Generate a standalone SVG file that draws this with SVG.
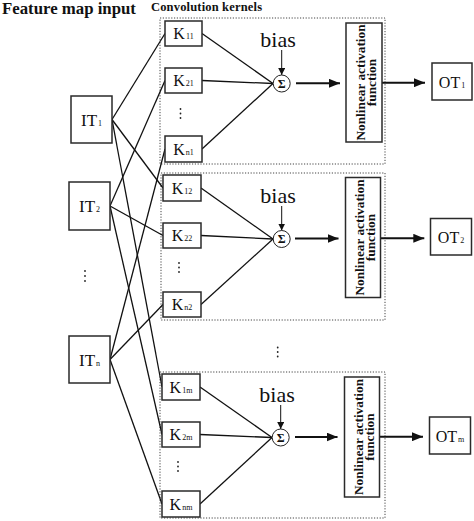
<svg xmlns="http://www.w3.org/2000/svg" width="474" height="521" viewBox="0 0 474 521">
<defs>
<style>
.box{fill:#fff;stroke:#2a2a2a;stroke-width:1.5}
.grp{fill:none;stroke:#444;stroke-width:1;stroke-dasharray:1.2 1.6}
.ln{stroke:#111;stroke-width:1.3;fill:none}
.ar{stroke:#111;stroke-width:1.9;fill:none}
.arb{stroke:#111;stroke-width:1;fill:none}
.t{font-family:"Liberation Serif","Times New Roman",serif;fill:#111}
.k{font-size:16px;text-anchor:middle}
.it{font-size:17px;text-anchor:middle}
.sub{font-size:8px;fill:#111}
.nl{font-size:13.3px;font-weight:bold;text-anchor:middle}
.bias{font-size:22px;text-anchor:middle}
.sig{fill:#fff;stroke:#222;stroke-width:1}
.dots{fill:#222}
</style>
<marker id="ah" markerUnits="userSpaceOnUse" markerWidth="11" markerHeight="9" refX="11" refY="4.5" orient="auto">
<path d="M0,0 L11,4.5 L0,9 z" fill="#111"/>
</marker>
<marker id="ahs" markerUnits="userSpaceOnUse" markerWidth="7" markerHeight="7" refX="7" refY="3.5" orient="auto">
<path d="M0,0 L7,3.5 L0,7 z" fill="#111"/>
</marker>
</defs>
<rect width="474" height="521" fill="#fff"/>

<text class="t" x="2" y="14" font-size="16.8" font-weight="bold">Feature map input</text>
<text class="t" x="151" y="11" font-size="12.5" font-weight="bold" textLength="111">Convolution kernels</text>

<g id="groups">
<rect class="grp" x="160" y="18" width="225" height="146"/>
<rect class="grp" x="161" y="173" width="224" height="147"/>
<rect class="grp" x="160" y="372" width="225" height="146"/>
</g>

<g id="connectors">
<line class="ln" x1="112" y1="119.5" x2="165" y2="33.5"/>
<line class="ln" x1="112" y1="119.5" x2="163" y2="188"/>
<line class="ln" x1="112" y1="119.5" x2="162" y2="387"/>
<line class="ln" x1="110" y1="206" x2="165" y2="80.5"/>
<line class="ln" x1="110" y1="206" x2="163" y2="235.5"/>
<line class="ln" x1="110" y1="206" x2="162" y2="434.5"/>
<line class="ln" x1="110" y1="359.5" x2="165" y2="149"/>
<line class="ln" x1="110" y1="359.5" x2="163" y2="304.5"/>
<line class="ln" x1="110" y1="359.5" x2="162" y2="504"/>

<line class="ln" x1="202" y1="33.5" x2="273" y2="83.5"/>
<line class="ln" x1="202" y1="80.5" x2="273" y2="83.5"/>
<line class="ln" x1="202" y1="149" x2="273" y2="83.5"/>
<line class="ln" x1="201" y1="188" x2="273" y2="239"/>
<line class="ln" x1="201" y1="235.5" x2="273" y2="239"/>
<line class="ln" x1="201" y1="304.5" x2="273" y2="239"/>
<line class="ln" x1="200" y1="387" x2="272" y2="437.5"/>
<line class="ln" x1="200" y1="434.5" x2="272" y2="437.5"/>
<line class="ln" x1="200" y1="504" x2="272" y2="437.5"/>

<line class="arb" x1="281.7" y1="50" x2="281.7" y2="75" marker-end="url(#ahs)"/>
<line class="arb" x1="281.7" y1="206" x2="281.7" y2="230.5" marker-end="url(#ahs)"/>
<line class="arb" x1="280.7" y1="405" x2="280.7" y2="429" marker-end="url(#ahs)"/>

<line class="ar" x1="296" y1="83.3" x2="340" y2="83.3" marker-end="url(#ah)"/>
<line class="ar" x1="295" y1="238.5" x2="338.5" y2="238.5" marker-end="url(#ah)"/>
<line class="ar" x1="295" y1="437" x2="337.5" y2="437" marker-end="url(#ah)"/>

<line class="ar" x1="382" y1="82.7" x2="425" y2="82.7" marker-end="url(#ah)"/>
<line class="ar" x1="380" y1="238.3" x2="424.3" y2="238.3" marker-end="url(#ah)"/>
<line class="ar" x1="379" y1="436.7" x2="423" y2="436.7" marker-end="url(#ah)"/>
</g>

<g id="IT1"><rect class="box" x="71" y="96" width="41" height="47"/><text class="t it" x="91.5" y="125.5">IT<tspan class="sub" dx="1">1</tspan></text></g>
<g id="IT2"><rect class="box" x="69" y="182" width="41" height="48"/><text class="t it" x="89.5" y="212">IT<tspan class="sub" dx="1">2</tspan></text></g>
<g id="ITdots"><circle class="dots" cx="85" cy="271" r="0.9"/><circle class="dots" cx="85" cy="276" r="0.9"/><circle class="dots" cx="85" cy="281" r="0.9"/></g>
<g id="ITn"><rect class="box" x="69" y="336" width="41" height="47"/><text class="t it" x="89.5" y="365.5">IT<tspan class="sub" dx="1">n</tspan></text></g>

<g id="K11"><rect class="box" x="165" y="21" width="37" height="25"/><text class="t k" x="183.5" y="39">K<tspan class="sub" dx="1">11</tspan></text></g>
<g id="K21"><rect class="box" x="165" y="68" width="37" height="25"/><text class="t k" x="183.5" y="86">K<tspan class="sub" dx="1">21</tspan></text></g>
<g id="Kdots1"><circle class="dots" cx="180.5" cy="109" r="0.9"/><circle class="dots" cx="180.5" cy="113.5" r="0.9"/><circle class="dots" cx="180.5" cy="118" r="0.9"/></g>
<g id="Kn1"><rect class="box" x="165" y="136" width="37" height="26"/><text class="t k" x="183.5" y="154.5">K<tspan class="sub" dx="1">n1</tspan></text></g>

<g id="K12"><rect class="box" x="163" y="175" width="38" height="26"/><text class="t k" x="182" y="193.5">K<tspan class="sub" dx="1">12</tspan></text></g>
<g id="K22"><rect class="box" x="163" y="223" width="38" height="25"/><text class="t k" x="182" y="241">K<tspan class="sub" dx="1">22</tspan></text></g>
<g id="Kdots2"><circle class="dots" cx="179" cy="263" r="0.9"/><circle class="dots" cx="179" cy="267.5" r="0.9"/><circle class="dots" cx="179" cy="272" r="0.9"/></g>
<g id="Kn2"><rect class="box" x="163" y="292" width="38" height="25"/><text class="t k" x="182" y="310">K<tspan class="sub" dx="1">n2</tspan></text></g>

<g id="K1m"><rect class="box" x="162" y="374" width="38" height="26"/><text class="t k" x="181" y="392.5">K<tspan class="sub" dx="1">1m</tspan></text></g>
<g id="K2m"><rect class="box" x="162" y="422" width="38" height="25"/><text class="t k" x="181" y="440">K<tspan class="sub" dx="1">2m</tspan></text></g>
<g id="Kdots3"><circle class="dots" cx="178" cy="462" r="0.9"/><circle class="dots" cx="178" cy="466.5" r="0.9"/><circle class="dots" cx="178" cy="471" r="0.9"/></g>
<g id="Knm"><rect class="box" x="162" y="491" width="38" height="26"/><text class="t k" x="181" y="509.5">K<tspan class="sub" dx="1">nm</tspan></text></g>

<g id="bias1"><text class="t bias" x="278" y="47">bias</text></g>
<g id="bias2"><text class="t bias" x="278" y="203">bias</text></g>
<g id="bias3"><text class="t bias" x="277" y="401.5">bias</text></g>

<g id="sum1"><circle class="sig" cx="281.7" cy="83.5" r="8.5"/><text class="t" x="281.7" y="87.8" font-size="12" font-weight="bold" text-anchor="middle">Σ</text></g>
<g id="sum2"><circle class="sig" cx="281.7" cy="239" r="8.5"/><text class="t" x="281.7" y="243.3" font-size="12" font-weight="bold" text-anchor="middle">Σ</text></g>
<g id="sum3"><circle class="sig" cx="280.7" cy="437.5" r="8.5"/><text class="t" x="280.7" y="441.8" font-size="12" font-weight="bold" text-anchor="middle">Σ</text></g>

<g id="act1"><rect class="box" x="346" y="23" width="36" height="119"/>
<text class="t nl" transform="translate(365,82.5) rotate(-90)">Nonlinear activation</text>
<text class="t nl" transform="translate(376,82.5) rotate(-90)">function</text></g>
<g id="act2"><rect class="box" x="345.5" y="177.5" width="35" height="120"/>
<text class="t nl" transform="translate(364,237.5) rotate(-90)">Nonlinear activation</text>
<text class="t nl" transform="translate(375,237.5) rotate(-90)">function</text></g>
<g id="act3"><rect class="box" x="344.5" y="377" width="35" height="120"/>
<text class="t nl" transform="translate(363,437) rotate(-90)">Nonlinear activation</text>
<text class="t nl" transform="translate(374,437) rotate(-90)">function</text></g>

<g id="midDots"><circle class="dots" cx="277.7" cy="347.5" r="0.9"/><circle class="dots" cx="277.7" cy="352" r="0.9"/><circle class="dots" cx="277.7" cy="356.5" r="0.9"/></g>

<g id="OT1"><rect class="box" x="432" y="63" width="40" height="37"/><text class="t k" x="452" y="87.5">OT<tspan class="sub" dx="1">1</tspan></text></g>
<g id="OT2"><rect class="box" x="430.5" y="218.5" width="41" height="36.5"/><text class="t k" x="451" y="243">OT<tspan class="sub" dx="1">2</tspan></text></g>
<g id="OTm"><rect class="box" x="429.5" y="417" width="41" height="37"/><text class="t k" x="450" y="441.5">OT<tspan class="sub" dx="1">m</tspan></text></g>
</svg>
